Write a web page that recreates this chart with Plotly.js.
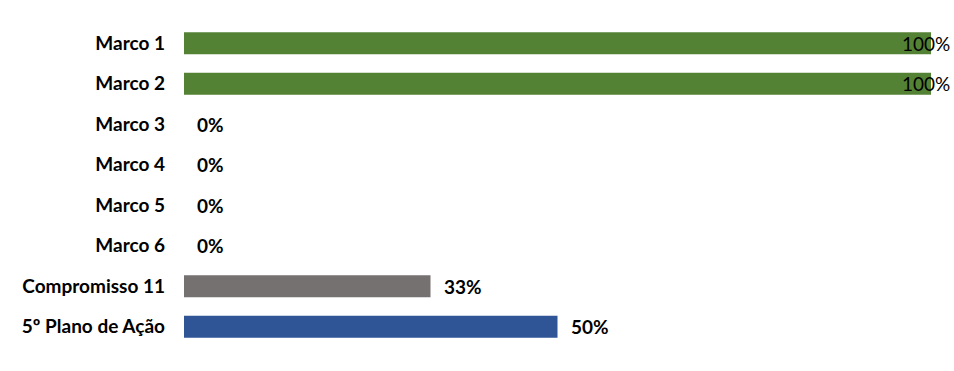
<!DOCTYPE html>
<html><head><meta charset="utf-8">
<script src="https://cdn.plot.ly/plotly-3.0.1.min.js"></script>
<style>body{margin:0;background:#fff}#c{width:954px;height:371px}</style>
</head><body><div id="c"></div>
<script>
const categories = ["Marco 1","Marco 2","Marco 3","Marco 4","Marco 5","Marco 6","Compromisso 11","5º Plano de Ação"];
const values = [100,100,0,0,0,0,33,50];
const colors = ["#548235","#548235","#548235","#548235","#548235","#548235","#767171","#2F5597"];
const labels = values.map(v => v + "%");

const FONT = "Lato, 'Open Sans', sans-serif";
const annotations = categories.map((c,i) => {
  const full = values[i] >= 100;
  return {
    x: values[i], y: c, xref: "x", yref: "y",
    text: full ? labels[i] : "<b>" + labels[i] + "</b>",
    showarrow: false, xanchor: full ? "right" : "left",
    xshift: full ? 21 : 11,
    font: {family: FONT, size: 19, color: "#000"}
  };
});

Plotly.newPlot("c", [{
  type: "bar", orientation: "h",
  x: values, y: categories,
  marker: {color: colors},
  hoverinfo: "none"
}], {
  width: 954, height: 371,
  margin: {l: 184, r: 23, t: 23, b: 24},
  paper_bgcolor: "#fff", plot_bgcolor: "#fff",
  bargap: 0.46,
  showlegend: false,
  xaxis: {range: [0, 100], visible: false, fixedrange: true},
  yaxis: {autorange: "reversed", showgrid: false, zeroline: false, showline: false,
          ticks: "", ticklabelstandoff: 18,
          tickfont: {family: FONT, size: 19, color: "#000", weight: "bold"}},
  annotations: annotations
}, {displayModeBar: false, staticPlot: true});
</script></body></html>
